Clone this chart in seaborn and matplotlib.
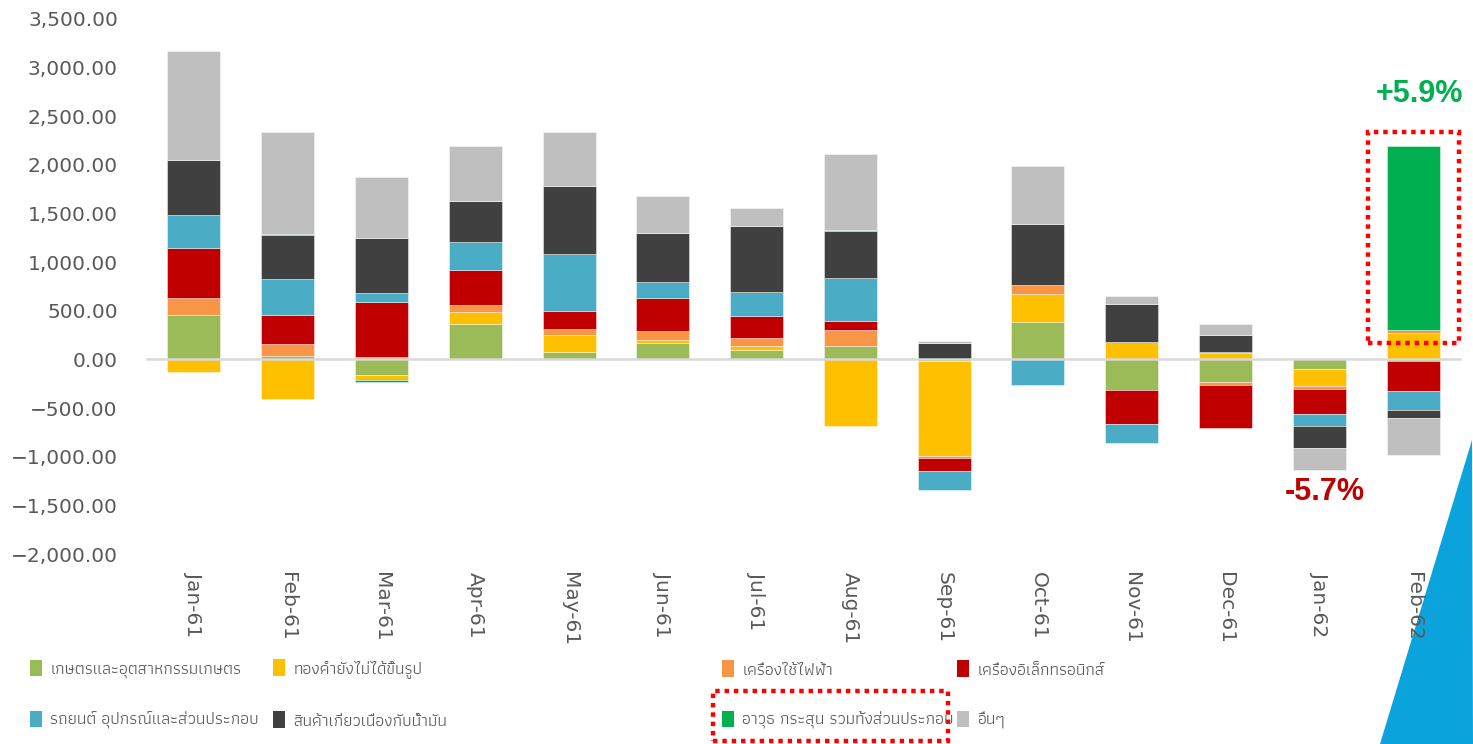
import numpy as np
import matplotlib
matplotlib.use("Agg")
import matplotlib.pyplot as plt
import seaborn as sns
from matplotlib.patches import Patch, Rectangle, Polygon
from matplotlib.ticker import StrMethodFormatter

# data
months = ["Jan-61", "Feb-61", "Mar-61", "Apr-61", "May-61", "Jun-61", "Jul-61",
          "Aug-61", "Sep-61", "Oct-61", "Nov-61", "Dec-61", "Jan-62", "Feb-62"]

agri = [460, 31, -160, 360, 75, 172, 99, 141, -15, 384, -319, -233, -96, -20]
gold = [-130, -406, -50, 127, 175, 24, 38, -683, -980, 285, 182, 65, -182, 268]
appliance = [175, 130, 30, 69, 65, 93, 86, 158, -14, 96, 0, -31, -24, 31]
electronics = [508, 292, 563, 360, 185, 340, 223, 99, -137, 0, -340, -442, -261, -305]
auto = [346, 370, 89, 295, 580, 168, 244, 439, -192, -264, -202, 10, -117, -196]
oil = [566, 453, 563, 422, 707, 504, 683, 484, 172, 631, 391, 178, -230, -79]
weapons = [0, 10, -20, 0, 0, 0, 0, 5, 0, 0, 0, 0, 0, 1891]
others = [1118, 1053, 631, 563, 552, 381, 189, 789, 20, 597, 82, 110, -230, -384]

labels = ["เกษตรและอุตสาหกรรมเกษตร", "ทองคำยังไม่ได้ขึ้นรูป", "เครื่องใช้ไฟฟ้า",
          "เครื่องอิเล็กทรอนิกส์", "รถยนต์ อุปกรณ์และส่วนประกอบ",
          "สินค้าเกี่ยวเนื่องกับน้ำมัน", "อาวุธ กระสุน รวมทั้งส่วนประกอบ", "อื่นๆ"]
colors = ["#9BBB59", "#FFC000", "#F79646", "#C00000", "#4BACC6", "#404040", "#00B050", "#BFBFBF"]
series = [agri, gold, appliance, electronics, auto, oil, weapons, others]

up_label, down_label = "+5.9%", "-5.7%"

sns.set_style("white")
plt.rcParams['font.family'] = ['DejaVu Sans', 'Athiti']
grey_txt = "#595959"

fig = plt.figure(figsize=(14.73, 7.44), dpi=100)
fig.patch.set_facecolor("white")

# blue corner decoration
fig.add_artist(Polygon([[1472 / 1473, 1 - 440 / 744], [1380 / 1473, 0], [1, 0]],
                       closed=True, transform=fig.transFigure, facecolor="#0aa3dc",
                       edgecolor="none", zorder=-1))

ax = fig.add_axes([147 / 1473, 1 - 554 / 744, (1460 - 147) / 1473, (554 - 19) / 744])
ax.patch.set_visible(False)

# stacked bars, positives up and negatives down
pos_base = np.zeros(len(months))
neg_base = np.zeros(len(months))
for vals, color, name in zip(series, colors, labels):
    v = np.array(vals, dtype=float)
    bottom = np.where(v >= 0, pos_base, neg_base)
    sns.barplot(x=months, y=v, bottom=bottom, color=color, width=0.565, ax=ax,
                edgecolor=(1, 1, 1, 0.5), linewidth=0.6, saturation=1, zorder=2)
    pos_base += np.clip(v, 0, None)
    neg_base += np.clip(v, None, 0)

ax.set_xlim(-0.5, len(months) - 0.5)
ax.set_ylim(-2000, 3500)
ax.set_yticks(np.arange(-2000, 3501, 500))
ax.yaxis.set_major_formatter(StrMethodFormatter("{x:,.2f}"))
ax.tick_params(axis="y", length=0, pad=21, labelsize=14.5, labelcolor=grey_txt)

for s in ["left", "top", "right"]:
    ax.spines[s].set_visible(False)
ax.spines["bottom"].set_position(("data", 0))
ax.spines["bottom"].set_color("#d9d9d9")
ax.spines["bottom"].set_linewidth(1.8)
ax.spines["bottom"].set_zorder(3)
ax.set_xticks(np.arange(-0.5, len(months), 1))
ax.tick_params(axis="x", direction="inout", length=11.5, width=1.5, color="#d9d9d9",
               labelbottom=False)
ax.set_xlabel("")
ax.set_ylabel("")

sec = ax.secondary_xaxis("bottom")
sec.set_xticks(range(len(months)), labels=months)
sec.tick_params(length=0, pad=13, labelrotation=-90, labelsize=14.5, labelcolor=grey_txt)
sec.spines["bottom"].set_visible(False)

# highlight box around the Feb-62 weapons bar
last = len(months) - 1
ax.add_patch(Rectangle((last - 0.48, 170), 0.97, pos_base[last] + 150 - 170, fill=False,
                       edgecolor="#ff0000", linewidth=3.2, linestyle=(0, (1, 1.1)),
                       clip_on=False, zorder=4))
ax.text(last + 0.07, pos_base[last] + 540, up_label, color="#00B050", fontsize=22,
        fontweight="bold", family="Liberation Sans", ha="center", va="center")
ax.text(last - 1 + 0.06, neg_base[last - 1] - 225, down_label, color="#C00000", fontsize=22,
        fontweight="bold", family="Liberation Sans", ha="center", va="center")

# legend, laid out as in the reference (4 columns, 2 rows)
leg_x = [30, 273, 722, 957]
leg_y = [669, 720]
thai = ['Athiti', 'DejaVu Sans']
for i, (name, color) in enumerate(zip(labels, colors)):
    r, c = divmod(i, 4)
    fig.legend(handles=[Patch(facecolor=color, edgecolor="none")], labels=[name],
               loc="center left", bbox_to_anchor=(leg_x[c] / 1473, 1 - leg_y[r] / 744),
               frameon=False, borderpad=0, borderaxespad=0, handlelength=0.72,
               handleheight=1.1, handletextpad=0.45, labelcolor=grey_txt,
               prop={"family": thai, "size": 12.4})

fig.add_artist(Rectangle((713 / 1473, 1 - 741 / 744), (948 - 713) / 1473, (741 - 691) / 744,
                         transform=fig.transFigure, fill=False, edgecolor="#ff0000",
                         linewidth=3.2, linestyle=(0, (1, 1.1))))

fig.savefig("out.png", dpi=100)
